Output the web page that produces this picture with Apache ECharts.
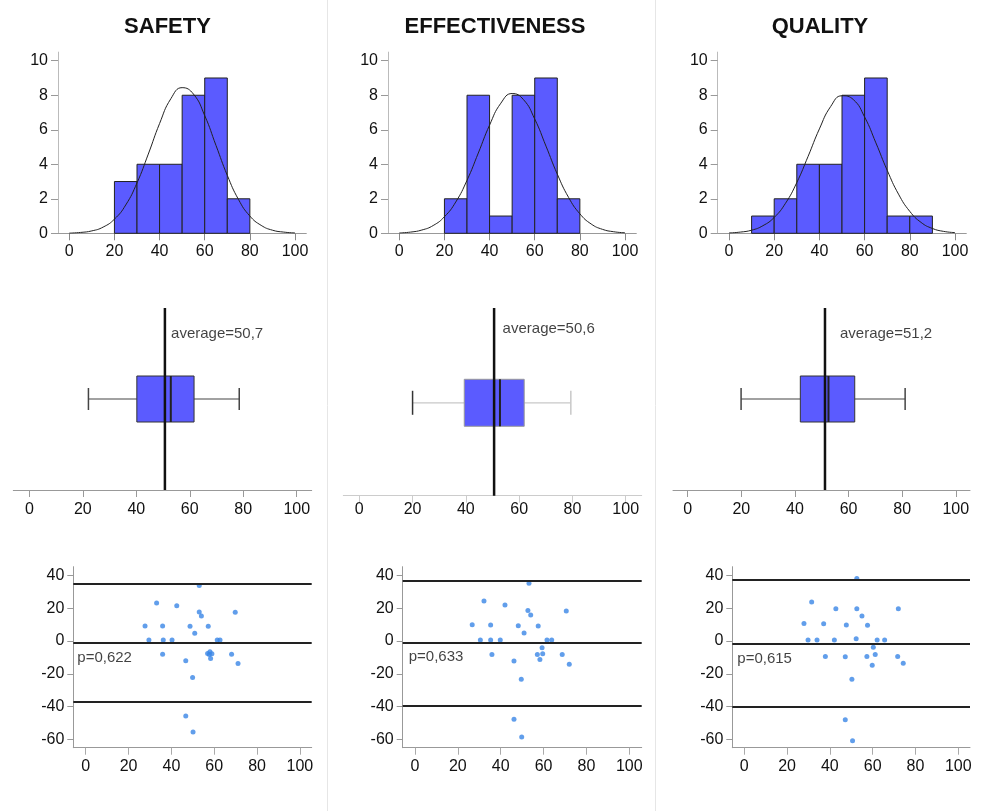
<!DOCTYPE html>
<html>
<head>
<meta charset="utf-8">
<script src="https://cdn.jsdelivr.net/npm/echarts@6/dist/echarts.min.js"></script>
<style>html,body{margin:0;padding:0;background:#fff;}#chart{width:981px;height:811px;}</style>
</head>
<body>
<div id="chart"></div>
<script>
// ---------------- DATA ----------------
const titles = ['SAFETY', 'EFFECTIVENESS', 'QUALITY'];

// histogram bins (start of each 10-wide bin) and counts
const binStarts = [10, 20, 30, 40, 50, 60, 70, 80];
const safetyCounts = [0, 3, 4, 4, 8, 9, 2, 0];
const effectCounts = [0, 2, 8, 1, 8, 9, 2, 0];
const qualityCounts = [1, 2, 4, 4, 8, 9, 1, 1];

// fitted normal curves
const curveX = [0, 5, 10, 15, 20, 25, 30, 35, 40, 45, 50, 55, 60, 65, 70, 75, 80, 85, 90, 95, 100];
const safetyCurve = [0.01, 0.05, 0.14, 0.36, 0.82, 1.64, 2.92, 4.59, 6.36, 7.80, 8.44, 8.07, 6.82, 5.09, 3.36, 1.95, 1.00, 0.46, 0.18, 0.07, 0.02];
const effectCurve = [0.02, 0.07, 0.19, 0.45, 0.96, 1.81, 3.07, 4.65, 6.27, 7.54, 8.10, 7.75, 6.62, 5.05, 3.43, 2.08, 1.13, 0.54, 0.23, 0.09, 0.03];
const qualityCurve = [0.02, 0.07, 0.18, 0.44, 0.92, 1.74, 2.94, 4.46, 6.05, 7.35, 7.97, 7.75, 6.74, 5.24, 3.65, 2.27, 1.27, 0.63, 0.28, 0.11, 0.04];

// box plots: [min, q1, median, q3, max]
const safetyBox = [22.1, 40.2, 52.9, 61.6, 78.5];
const effectBox = [20.0, 39.4, 52.8, 61.9, 79.4];
const qualityBox = [19.9, 42.0, 52.5, 62.3, 81.1];
const averages = [50.7, 50.6, 51.2];

// Bland-Altman style scatter: [mean, difference]
const safetyPoints = [[27.7,9.2],[29.5,0.6],[33.1,23.3],[35.9,9.2],[36.2,0.6],[35.9,-8.0],[40.3,0.6],[42.5,21.6],[46.7,-12.0],[46.7,-45.7],[48.7,9.0],[50.9,4.7],[49.9,-22.2],[50.1,-55.5],[53.0,33.9],[53.0,17.8],[54.0,15.3],[57.2,9.0],[56.9,-7.6],[58.0,-6.5],[57.7,-8.2],[58.9,-7.8],[58.3,-10.6],[61.4,0.6],[62.7,0.6],[68.1,-8.0],[69.8,17.6],[71.1,-13.7]];
const effectPoints = [[26.7,10.0],[30.5,0.6],[32.2,24.5],[35.3,9.8],[35.3,0.6],[35.9,-8.2],[39.8,0.6],[42.0,22.0],[46.2,-12.2],[46.2,-47.8],[48.2,9.4],[50.9,4.9],[49.6,-23.3],[49.8,-58.6],[53.2,35.3],[52.7,18.6],[54.0,15.9],[57.5,9.2],[57.1,-8.2],[59.3,-4.1],[59.6,-7.8],[58.3,-11.2],[61.6,0.6],[63.8,0.6],[68.7,-8.2],[70.6,18.4],[72.0,-14.1]];
const qualityPoints = [[27.9,10.8],[29.8,0.6],[31.5,23.9],[34.0,0.6],[37.1,10.6],[37.9,-9.4],[42.1,0.6],[42.8,19.8],[47.2,-9.6],[47.2,-48.0],[47.7,9.8],[52.3,1.4],[50.3,-23.3],[50.6,-60.8],[52.6,38.2],[52.6,19.8],[55.0,15.3],[57.6,9.6],[57.3,-9.4],[60.3,-3.7],[61.2,-8.2],[59.8,-14.7],[62.1,0.6],[65.6,0.6],[71.7,-9.4],[72.0,19.8],[74.3,-13.5]];
// limits of agreement lines [upper, mean, lower]
const safetyLimits = [34.8, -1.0, -37.0];
const effectLimits = [36.7, -1.0, -39.2];
const qualityLimits = [37.3, -1.4, -39.8];
const pValues = ['0,622', '0,633', '0,615'];

// tick labels
const xTicks = [0, 20, 40, 60, 80, 100];
const histYTicks = [0, 2, 4, 6, 8, 10];
const scatYTicks = [-60, -40, -20, 0, 20, 40];

// ---------------- LAYOUT / STYLE ----------------
const FONT = '"Liberation Sans", Arial, Helvetica, sans-serif';
const BLUE = '#5b5bff';
const layout = [
  { title: 162.5,
    hist: { left: 58, top: 52.1, width: 248.3, height: 181.2, xmin: -5, xmax: 105 },
    box: { left: 13.3, top: 308, width: 298.4, height: 182, xmin: -6, xmax: 105.6, center: 0.5, textY: 0.86, textX: 53.0,
           axis: '#999', whisker: '#444', capL: '#444', capR: '#444', border: '#333', half: 23, cap: 11, margin: 12 },
    scat: { left: 73.3, top: 566.7, width: 238.4, height: 181, xmin: -5.8, xmax: 105.5, pY: -10.2, pDist: 4 } },
  { title: 490,
    hist: { left: 388.0, top: 52.1, width: 248.3, height: 181.2, xmin: -5, xmax: 105 },
    box: { left: 343.3, top: 308, width: 298.4, height: 187.7, xmin: -6, xmax: 106, center: 0.495, textY: 0.887, textX: 53.8,
           axis: '#ccc', whisker: '#c8c8c8', capL: '#333', capR: '#c8c8c8', border: '#999', half: 23.5, cap: 12, margin: 6 },
    scat: { left: 402.7, top: 566.7, width: 239, height: 181, xmin: -5.74, xmax: 105.8, pY: -9.6, pDist: 6 } },
  { title: 815,
    hist: { left: 717.7, top: 52.1, width: 248.6, height: 181.2, xmin: -5, xmax: 105 },
    box: { left: 673, width: 297, top: 308, height: 182, xmin: -5.5, xmax: 105.3, center: 0.5, textY: 0.86, textX: 56.8,
           axis: '#999', whisker: '#444', capL: '#444', capR: '#444', border: '#333', half: 23, cap: 11, margin: 12 },
    scat: { left: 732.3, top: 566.7, width: 237.7, height: 181, xmin: -5.6, xmax: 105.5, pY: -10.6, pDist: 5 } }
];

const countsList = [safetyCounts, effectCounts, qualityCounts];
const curveList = [safetyCurve, effectCurve, qualityCurve];
const boxList = [safetyBox, effectBox, qualityBox];
const pointList = [safetyPoints, effectPoints, qualityPoints];
const limitList = [safetyLimits, effectLimits, qualityLimits];

const labelStyle = { fontSize: 16, color: '#111', fontFamily: FONT };

const grid = [], xAxis = [], yAxis = [], series = [], title = [];

layout.forEach((L, c) => {
  title.push({ text: titles[c], left: L.title, top: 11, textAlign: 'center',
    textStyle: { fontSize: 22, fontWeight: 'bold', color: '#111', fontFamily: FONT } });

  // ---- histogram ----
  const gH = grid.length;
  grid.push({ left: L.hist.left, top: L.hist.top, width: L.hist.width, height: L.hist.height });
  xAxis.push({ gridIndex: gH, type: 'value', min: L.hist.xmin, max: L.hist.xmax,
    axisLine: { show: true, onZero: false, lineStyle: { color: '#999', width: 1 } },
    axisTick: { show: true, length: 7, customValues: xTicks, lineStyle: { color: '#888' } },
    axisLabel: Object.assign({ customValues: xTicks, margin: 10 }, labelStyle),
    splitLine: { show: false } });
  yAxis.push({ gridIndex: gH, type: 'value', min: 0, max: 10.5,
    axisLine: { show: true, onZero: false, lineStyle: { color: '#bbb', width: 1 } },
    axisTick: { show: true, length: 7, customValues: histYTicks, lineStyle: { color: '#999' } },
    axisLabel: Object.assign({ customValues: histYTicks, margin: 10 }, labelStyle),
    splitLine: { show: false } });
  const histData = [];
  binStarts.forEach((b, i) => { if (countsList[c][i] > 0) histData.push([b, b + 10, countsList[c][i]]); });
  series.push({ type: 'custom', xAxisIndex: gH, yAxisIndex: gH, data: histData,
    encode: { x: [0, 1], y: 2 }, silent: true,
    renderItem: (params, api) => {
      const p0 = api.coord([api.value(0), api.value(2)]);
      const p1 = api.coord([api.value(1), 0]);
      return { type: 'rect', shape: { x: p0[0], y: p0[1], width: p1[0] - p0[0], height: p1[1] - p0[1] },
        style: { fill: BLUE, stroke: '#222', lineWidth: 1 } };
    } });
  series.push({ type: 'line', xAxisIndex: gH, yAxisIndex: gH, smooth: true, symbol: 'none', silent: true,
    data: curveX.map((x, i) => [x, curveList[c][i]]),
    lineStyle: { color: '#222', width: 1 }, z: 3 });

  // ---- box plot ----
  const gB = grid.length;
  const B = L.box;
  grid.push({ left: B.left, top: B.top, width: B.width, height: B.height });
  xAxis.push({ gridIndex: gB, type: 'value', min: B.xmin, max: B.xmax,
    axisLine: { show: true, onZero: false, lineStyle: { color: B.axis, width: 1 } },
    axisTick: { show: true, length: 7, customValues: xTicks, lineStyle: { color: B.axis } },
    axisLabel: Object.assign({ customValues: xTicks, margin: B.margin }, labelStyle),
    splitLine: { show: false } });
  yAxis.push({ gridIndex: gB, type: 'value', min: 0, max: 1, show: false });
  series.push({ type: 'custom', xAxisIndex: gB, yAxisIndex: gB, silent: true,
    data: [boxList[c].concat([B.center])],
    encode: { x: [0, 1, 2, 3, 4], y: 5 },
    renderItem: (params, api) => {
      const yc = api.value(5);
      const pts = [0, 1, 2, 3, 4].map(k => api.coord([api.value(k), yc]));
      const y = pts[0][1];
      return { type: 'group', children: [
        { type: 'line', shape: { x1: pts[0][0], y1: y, x2: pts[1][0], y2: y }, style: { stroke: B.whisker, lineWidth: 1.2 } },
        { type: 'line', shape: { x1: pts[3][0], y1: y, x2: pts[4][0], y2: y }, style: { stroke: B.whisker, lineWidth: 1.2 } },
        { type: 'line', shape: { x1: pts[0][0], y1: y - B.cap, x2: pts[0][0], y2: y + B.cap }, style: { stroke: B.capL, lineWidth: 1.5 } },
        { type: 'line', shape: { x1: pts[4][0], y1: y - B.cap, x2: pts[4][0], y2: y + B.cap }, style: { stroke: B.capR, lineWidth: 1.5 } },
        { type: 'rect', shape: { x: pts[1][0], y: y - B.half, width: pts[3][0] - pts[1][0], height: 2 * B.half },
          style: { fill: BLUE, stroke: B.border, lineWidth: 1 } },
        { type: 'line', shape: { x1: pts[2][0], y1: y - B.half, x2: pts[2][0], y2: y + B.half }, style: { stroke: '#222', lineWidth: 2 } }
      ] };
    } });
  series.push({ type: 'line', xAxisIndex: gB, yAxisIndex: gB, symbol: 'none', silent: true,
    data: [[averages[c], 0], [averages[c], 1]], lineStyle: { color: '#111', width: 2.5 }, z: 4 });
  series.push({ type: 'scatter', xAxisIndex: gB, yAxisIndex: gB, symbolSize: 0, silent: true,
    data: [[B.textX, B.textY]],
    label: { show: true, position: 'right', distance: 0, fontSize: 15, color: '#111', fontFamily: FONT,
      formatter: () => 'average=' + String(averages[c]).replace('.', ',') } });

  // ---- scatter ----
  const gS = grid.length;
  const S = L.scat;
  grid.push({ left: S.left, top: S.top, width: S.width, height: S.height });
  xAxis.push({ gridIndex: gS, type: 'value', min: S.xmin, max: S.xmax,
    axisLine: { show: true, onZero: false, lineStyle: { color: '#999', width: 1 } },
    axisTick: { show: true, length: 7, customValues: xTicks, lineStyle: { color: '#aaa' } },
    axisLabel: Object.assign({ customValues: xTicks, margin: 11 }, labelStyle),
    splitLine: { show: false } });
  yAxis.push({ gridIndex: gS, type: 'value', min: -65.1, max: 45.4,
    axisLine: { show: true, onZero: false, lineStyle: { color: '#999', width: 1 } },
    axisTick: { show: true, length: 6, customValues: scatYTicks, lineStyle: { color: '#999' } },
    axisLabel: Object.assign({ customValues: scatYTicks, margin: 9 }, labelStyle),
    splitLine: { show: false } });
  series.push({ type: 'scatter', xAxisIndex: gS, yAxisIndex: gS, symbolSize: 5, silent: true,
    data: pointList[c], itemStyle: { color: '#3a86e6' },
    markLine: { silent: true, symbol: 'none', label: { show: false },
      lineStyle: { color: '#222', width: 2, type: 'solid' },
      data: limitList[c].map(v => ({ yAxis: v })) } });
  series.push({ type: 'scatter', xAxisIndex: gS, yAxisIndex: gS, symbolSize: 0, silent: true,
    data: [[S.xmin, S.pY]],
    label: { show: true, position: 'right', distance: S.pDist, fontSize: 15, color: '#111', fontFamily: FONT,
      formatter: () => 'p=' + pValues[c] } });
});

const chart = echarts.init(document.getElementById('chart'), null, { renderer: 'canvas' });
chart.setOption({
  backgroundColor: '#fff',
  animation: false,
  title, grid, xAxis, yAxis, series,
  graphic: [
    { type: 'line', shape: { x1: 327.5, y1: 0, x2: 327.5, y2: 811 }, style: { stroke: '#e6e6e6', lineWidth: 1 } },
    { type: 'line', shape: { x1: 655.5, y1: 0, x2: 655.5, y2: 811 }, style: { stroke: '#e6e6e6', lineWidth: 1 } }
  ]
});
</script>
</body>
</html>
